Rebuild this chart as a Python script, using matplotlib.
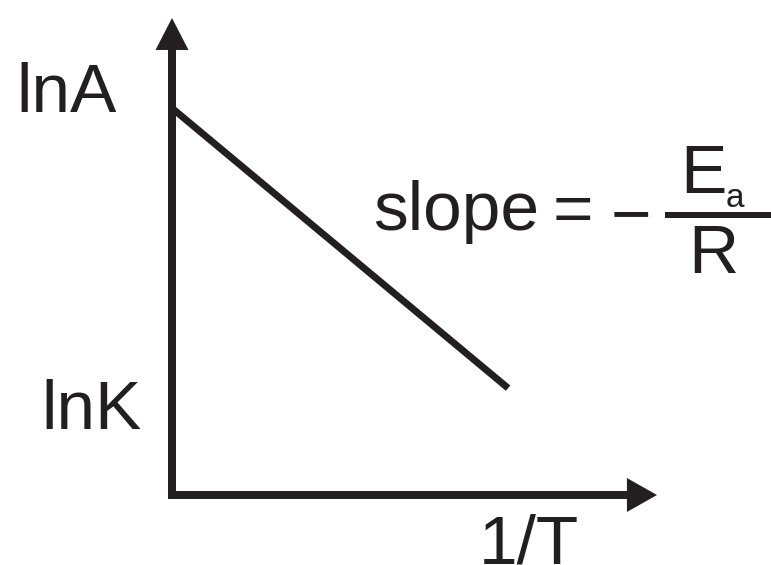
import matplotlib
matplotlib.use("Agg")
import matplotlib.pyplot as plt
from matplotlib.patches import Polygon
from matplotlib.lines import Line2D

# ---- data (schematic Arrhenius plot, axes-fraction units) ----
inv_T = [0.0, 0.693]          # 1/T
ln_k = [0.811, 0.224]         # ln k  (starts at ln A, falls with slope -Ea/R)

y_labels = ["lnA", "lnK"]
x_label = "1/T"
slope_text = "slope"

INK = "#231f20"
W, H = 771, 565
FONT = "Liberation Sans"
FS = 50

fig = plt.figure(figsize=(W / 100, H / 100), dpi=100)
fig.patch.set_facecolor("white")

# axes placed so origin is at pixel (172, 495) and arrow tips at (657, 495) / (172, 18)
ax = fig.add_axes([172 / W, 70 / H, 485 / W, 477 / H])
ax.set_xlim(0, 1)
ax.set_ylim(0, 1)
ax.axis("off")

# axis lines
axis_lw = 8 * 72 / 100
ax.plot([0, 0], [0, 0.935], color=INK, lw=axis_lw, solid_capstyle="projecting", clip_on=False)
ax.plot([0, 0.94], [0, 0], color=INK, lw=axis_lw, solid_capstyle="projecting", clip_on=False)

# arrow heads
ax.add_patch(Polygon([[1.0, 0.0], [0.938, 0.0356], [0.938, -0.0356]], closed=True,
                     facecolor=INK, edgecolor="none", clip_on=False))
ax.add_patch(Polygon([[0.0, 1.0], [-0.034, 0.933], [0.034, 0.933]], closed=True,
                     facecolor=INK, edgecolor="none", clip_on=False))

# the line
ax.plot(inv_T, ln_k, color=INK, lw=5.0, solid_capstyle="butt", clip_on=False)


def ftext(xpx, ypx, s, size=FS, ha="left", va="baseline"):
    fig.text(xpx / W, 1 - ypx / H, s, fontsize=size, family=FONT, color=INK, ha=ha, va=va)


ftext(16, 112, y_labels[0])
ftext(41, 429, y_labels[1])
ftext(529, 563, x_label, ha="center")

ftext(373, 230, slope_text)
ftext(573, 232, "=", ha="center")
ftext(631, 236, "\u2212", ha="center")
ftext(703, 193, "E", ha="center")
ftext(735, 207, "a", size=24, ha="center")
ftext(713, 273, "R", ha="center")

# fraction bar
fig.add_artist(Line2D([665 / W, 1.0], [1 - 215 / H, 1 - 215 / H], color=INK,
                      lw=6 * 72 / 100, solid_capstyle="butt"))

fig.savefig("out.png", dpi=100, facecolor="white")
